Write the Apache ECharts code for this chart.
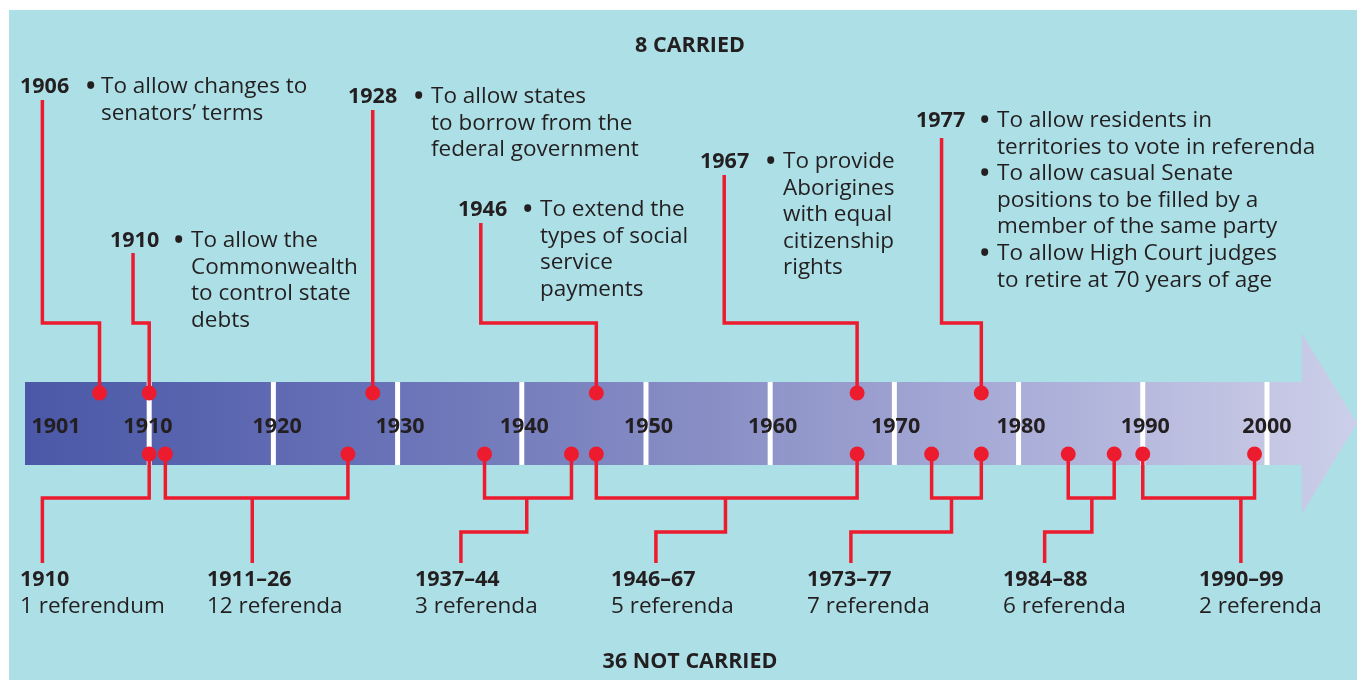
<!DOCTYPE html>
<html><head><meta charset="utf-8">
<script src="https://cdn.jsdelivr.net/npm/echarts@6/dist/echarts.min.js"></script>
<style>html,body{margin:0;padding:0;background:#fff}#c{width:1357px;height:680px}</style>
</head><body><div id="c"></div>
<script>
// ---------- data ----------
const carriedYears = [1906, 1910, 1928, 1946, 1967, 1977];
const notCarriedYears = [1910, 1911.3, 1926, 1937, 1944, 1946, 1967, 1973, 1977, 1984, 1987.7, 1990, 1999];
const decadeLines = [1910, 1920, 1930, 1940, 1950, 1960, 1970, 1980, 1990, 2000];
const bandLabels = ['1901', '1910', '1920', '1930', '1940', '1950', '1960', '1970', '1980', '1990', '2000'];
const bandLabelYears = [1902.5, 1909.9, 1920.3, 1930.2, 1940.2, 1950.2, 1960.2, 1970.1, 1980.2, 1990.2, 2000];
const carriedLabels = ['1906', '1910', '1928', '1946', '1967', '1977'];
const carriedTexts = [
  [['To allow changes to', 'senators\u2019 terms']],
  [['To allow the', 'Commonwealth', 'to control state', 'debts']],
  [['To allow states', 'to borrow from the', 'federal government']],
  [['To extend the', 'types of social', 'service', 'payments']],
  [['To provide', 'Aborigines', 'with equal', 'citizenship', 'rights']],
  [['To allow residents in', 'territories to vote in referenda'],
   ['To allow casual Senate', 'positions to be filled by a', 'member of the same party'],
   ['To allow High Court judges', 'to retire at 70 years of age']]
];
const groupLabels = ['1910', '1911\u201326', '1937\u201344', '1946\u201367', '1973\u201377', '1984\u201388', '1990\u201399'];
const groupCounts = ['1 referendum', '12 referenda', '3 referenda', '5 referenda', '7 referenda', '6 referenda', '2 referenda'];
const topTitle = '8 CARRIED';
const bottomTitle = '36 NOT CARRIED';

// ---------- layout ----------
const RED = '#ed1b2e', INK = '#231f20', BG = '#addfe6';
const FONT = '"Open Sans", "Noto Sans", sans-serif';
const BODY = 22.5, BOLD = 21.5;
const Y = { bandTop: 382, bandBot: 465, headTop: 333, headBot: 514, dotTop: 393, dotBot: 454,
            elbowTop: 323, bar: 498, step: 532, stemEnd: 563 };
const ARROW = { start: 1900, headStart: 2002.8, tip: 2007.25 };
// top connectors: [textLineX(year), startY]
const topConn = [[1901.4, 100], [1908.7, 253], [null, 110], [1936.7, 223], [1956.3, 175], [1973.8, 138]];
// bottom groups: dot index range, stem x, elbow x (or null)
const botGroups = [
  { dots: [0], stem: 1901.4, elbow: null },
  { dots: [1, 2], stem: 1918.3, elbow: null },
  { dots: [3, 4], stem: 1935.1, elbow: 1940.4 },
  { dots: [5, 6], stem: 1950.8, elbow: 1956.4 },
  { dots: [7, 8], stem: 1966.5, elbow: 1974.6 },
  { dots: [9, 10], stem: 1982.1, elbow: 1985.9 },
  { dots: [11, 12], stem: 1997.9, elbow: null }
];
// text positions (pixels)
const topTextPos = [ // [yearX, bulletX, textX, firstLineY]
  [20, 86, 101, 86.5], [110, 174, 191, 240.5], [348, 414, 431, 96.5],
  [458, 523, 540, 209.5], [700, 766, 783, 161.5], [916, 980, 997, 120.5]
];
const groupTextX = [20, 207, 415, 611, 807, 1003, 1199];
const LH = 26.6;

// ---------- connectors built from data ----------
const paths = [];
carriedYears.forEach((yr, i) => {
  const [tx, sy] = topConn[i];
  if (tx === null) paths.push([[yr, sy], [yr, Y.dotTop]]);
  else paths.push([[tx, sy], [tx, Y.elbowTop], [yr, Y.elbowTop], [yr, Y.dotTop]]);
});
botGroups.forEach(g => {
  const ys = g.dots.map(d => notCarriedYears[d]);
  if (ys.length === 1) {
    paths.push([[ys[0], Y.dotBot], [ys[0], Y.bar], [g.stem, Y.bar], [g.stem, Y.stemEnd]]);
  } else {
    paths.push([[ys[0], Y.dotBot], [ys[0], Y.bar], [ys[1], Y.bar], [ys[1], Y.dotBot]]);
    if (g.elbow === null) paths.push([[g.stem, Y.bar], [g.stem, Y.stemEnd]]);
    else paths.push([[g.elbow, Y.bar], [g.elbow, Y.step], [g.stem, Y.step], [g.stem, Y.stemEnd]]);
  }
});

// ---------- graphics (text) ----------
const graphics = [];
function txt(x, y, s, bold, size, align) {
  graphics.push({ type: 'text', x: x, y: y, z: 100, style: {
    text: s, fill: INK, font: (bold ? 'bold ' : '') + size + 'px ' + FONT,
    align: align || 'left', verticalAlign: 'middle' } });
}
txt(690, 45.5, topTitle, true, 21.5, 'center');
txt(690, 661.5, bottomTitle, true, 21.5, 'center');
carriedLabels.forEach((lab, i) => {
  const [yx, bx, tx, ly] = topTextPos[i];
  txt(yx, ly, lab, true, BOLD);
  let line = 0;
  carriedTexts[i].forEach(bulletLines => {
    txt(bx, ly + line * LH, '\u2022', true, 25);
    bulletLines.forEach(l => { txt(tx, ly + line * LH, l, false, BODY); line++; });
  });
});
groupLabels.forEach((lab, i) => {
  txt(groupTextX[i], 579.5, lab, true, BOLD);
  txt(groupTextX[i], 606.5, groupCounts[i], false, BODY);
});

const chart = echarts.init(document.getElementById('c'));
chart.setOption({
  backgroundColor: '#ffffff',
  animation: false,
  grid: { left: 25, right: 0, top: 0, bottom: 0 },
  xAxis: { type: 'value', min: ARROW.start, max: ARROW.tip, show: false },
  yAxis: { type: 'value', min: 0, max: 680, inverse: true, show: false },
  graphic: [{ type: 'rect', shape: { x: 9, y: 10, width: 1348, height: 670 }, style: { fill: BG }, z: -10 }].concat(graphics),
  series: [
    {
      type: 'custom', z: 1, silent: true,
      data: [0],
      renderItem: function (params, api) {
        const c = (x, y) => api.coord([x, y]);
        const pts = [c(ARROW.start, Y.bandTop), c(ARROW.headStart, Y.bandTop), c(ARROW.headStart, Y.headTop),
          c(ARROW.tip, (Y.bandTop + Y.bandBot) / 2), c(ARROW.headStart, Y.headBot), c(ARROW.headStart, Y.bandBot),
          c(ARROW.start, Y.bandBot)];
        const x0 = pts[0][0], x1 = pts[3][0];
        const children = [{ type: 'polygon', shape: { points: pts }, style: { fill: {
          type: 'linear', x: x0, y: 0, x2: x1, y2: 0, global: true,
          colorStops: [{ offset: 0, color: '#4a58a7' }, { offset: 0.25, color: '#6670b6' },
            { offset: 0.5, color: '#878dc4' }, { offset: 0.75, color: '#aaaed8' },
            { offset: 0.93, color: '#c4c6e3' }, { offset: 1, color: '#cbcfe9' }] } } }];
        decadeLines.forEach(d => {
          const p = c(d, Y.bandTop), q = c(d, Y.bandBot);
          children.push({ type: 'rect', shape: { x: p[0] - 2.5, y: p[1], width: 5, height: q[1] - p[1] }, style: { fill: '#ffffff' } });
        });
        bandLabels.forEach((lab, i) => {
          const p = c(bandLabelYears[i], (Y.bandTop + Y.bandBot) / 2);
          children.push({ type: 'text', x: p[0], y: p[1] + 3, style: { text: lab, fill: INK,
            font: 'bold 21.5px ' + FONT, align: 'center', verticalAlign: 'middle' } });
        });
        return { type: 'group', children: children };
      }
    },
    {
      type: 'custom', z: 2, silent: true,
      data: paths.map((p, i) => i),
      renderItem: function (params, api) {
        const pts = paths[params.dataIndex].map(p => api.coord(p));
        return { type: 'polyline', shape: { points: pts }, style: { stroke: RED, lineWidth: 3.5, fill: null, lineJoin: 'miter' } };
      }
    },
    {
      type: 'scatter', z: 3, silent: true, symbolSize: 15, itemStyle: { color: RED, opacity: 1 },
      data: carriedYears.map(y => [y, Y.dotTop]).concat(notCarriedYears.map(y => [y, Y.dotBot]))
    }
  ]
});
</script></body></html>
